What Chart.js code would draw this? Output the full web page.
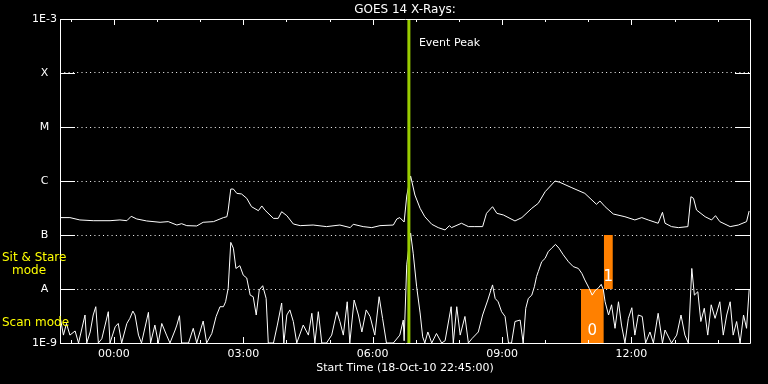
<!DOCTYPE html>
<html>
<head>
<meta charset="utf-8">
<script src="https://cdn.jsdelivr.net/npm/chart.js@4.4.0/dist/chart.umd.min.js"></script>
<style>
  html, body { margin: 0; padding: 0; background: #000; }
</style>
</head>
<body>
<canvas id="goes" width="768" height="384"></canvas>
<script>
// Time axis: hours from 00:00 on 19-Oct-10 (start is 22:45 the day before)
var timeMin = -1.25;
var timeMax = 14.75;
var hourTicks = [0, 3, 6, 9, 12];
var hourLabels = ["00:00", "03:00", "06:00", "09:00", "12:00"];

// Flux levels (W/m^2) and their labels
var levelValues = [1e-9, 1e-8, 1e-7, 1e-6, 1e-5, 1e-4, 1e-3];
var levelLabels = ["1E-9", "A", "B", "C", "M", "X", "1E-3"];

// Long channel (upper curve)
var longTime = [
    -1.25, -1.02, -0.79, -0.48, -0.09, 0.14, 0.30, 0.40, 0.53, 0.76,
    1.07, 1.26, 1.46, 1.57, 1.69, 1.92, 2.07, 2.31, 2.54, 2.62,
    2.65, 2.71, 2.77, 2.85, 2.96, 3.08, 3.19, 3.35, 3.43, 3.50,
    3.70, 3.81, 3.89, 4.01, 4.16, 4.32, 4.62, 4.93, 5.24, 5.48,
    5.55, 5.78, 5.98, 6.17, 6.48, 6.56, 6.63, 6.73, 6.79, 6.88,
    6.98, 7.10, 7.21, 7.37, 7.52, 7.68, 7.78, 7.83, 8.06, 8.22,
    8.37, 8.55, 8.64, 8.78, 8.88, 9.03, 9.30, 9.46, 9.69, 9.84,
    10.00, 10.23, 10.34, 10.62, 10.92, 11.19, 11.27, 11.39, 11.58, 11.85,
    12.08, 12.24, 12.39, 12.62, 12.72, 12.78, 12.93, 13.09, 13.31, 13.38,
    13.44, 13.51, 13.71, 13.86, 13.95, 14.05, 14.29, 14.48, 14.67, 14.73
];
var longFlux = [
    2.1e-7, 2.1e-7, 1.9e-7, 1.84e-7, 1.84e-7, 1.9e-7, 1.84e-7, 2.22e-7, 1.98e-7, 1.82e-7,
    1.72e-7, 1.77e-7, 1.53e-7, 1.62e-7, 1.49e-7, 1.47e-7, 1.72e-7, 1.77e-7, 2.1e-7, 2.18e-7,
    2.9e-7, 7.1e-7, 7.1e-7, 5.9e-7, 5.75e-7, 4.78e-7, 3.35e-7, 2.82e-7, 3.45e-7, 2.9e-7,
    2.03e-7, 2.03e-7, 2.7e-7, 2.28e-7, 1.6e-7, 1.49e-7, 1.53e-7, 1.43e-7, 1.53e-7, 1.37e-7,
    1.58e-7, 1.43e-7, 1.37e-7, 1.49e-7, 1.53e-7, 1.98e-7, 2.1e-7, 1.74e-7, 5.27e-7, 1.24e-6,
    5.5e-7, 3.12e-7, 2.18e-7, 1.58e-7, 1.37e-7, 1.24e-7, 1.49e-7, 1.37e-7, 1.65e-7, 1.43e-7,
    1.43e-7, 1.43e-7, 2.52e-7, 3.34e-7, 2.52e-7, 2.35e-7, 1.82e-7, 2.1e-7, 3.12e-7, 3.86e-7,
    6.34e-7, 1.0e-6, 9.45e-7, 7.5e-7, 5.9e-7, 3.7e-7, 4.26e-7, 3.34e-7, 2.45e-7, 2.18e-7,
    1.9e-7, 2.1e-7, 1.9e-7, 1.65e-7, 2.63e-7, 1.65e-7, 1.43e-7, 1.37e-7, 1.43e-7, 5.12e-7,
    4.78e-7, 2.9e-7, 2.18e-7, 1.9e-7, 2.28e-7, 1.77e-7, 1.43e-7, 1.53e-7, 1.77e-7, 2.78e-7
];

// Short channel (lower curve)
var shortTime = [
    -1.25, -1.17, -1.10, -1.02, -0.90, -0.82, -0.67, -0.63, -0.55, -0.48,
    -0.42, -0.36, -0.28, -0.13, -0.09, 0.03, 0.10, 0.18, 0.30, 0.37,
    0.44, 0.49, 0.57, 0.64, 0.80, 0.85, 0.95, 1.03, 1.11, 1.22,
    1.30, 1.42, 1.46, 1.52, 1.57, 1.73, 1.84, 1.92, 2.07, 2.15,
    2.27, 2.37, 2.46, 2.54, 2.59, 2.65, 2.71, 2.77, 2.83, 2.92,
    3.00, 3.08, 3.16, 3.23, 3.30, 3.37, 3.45, 3.53, 3.58, 3.70,
    3.79, 3.89, 3.94, 4.01, 4.08, 4.16, 4.24, 4.39, 4.51, 4.59,
    4.66, 4.74, 4.82, 4.93, 5.05, 5.17, 5.24, 5.32, 5.41, 5.47,
    5.57, 5.67, 5.75, 5.85, 5.94, 6.05, 6.15, 6.23, 6.32, 6.48,
    6.63, 6.71, 6.73, 6.79, 6.88, 6.94, 7.02, 7.10, 7.16, 7.21,
    7.28, 7.37, 7.48, 7.60, 7.68, 7.82, 7.87, 7.95, 8.03, 8.14,
    8.22, 8.30, 8.45, 8.55, 8.67, 8.78, 8.84, 8.91, 8.99, 9.07,
    9.15, 9.22, 9.30, 9.42, 9.49, 9.55, 9.61, 9.69, 9.75, 9.80,
    9.84, 9.92, 10.00, 10.07, 10.15, 10.24, 10.32, 10.42, 10.54, 10.65,
    10.77, 10.85, 10.92, 11.02, 11.09, 11.17, 11.23, 11.30, 11.35, 11.39,
    11.47, 11.54, 11.62, 11.70, 11.77, 11.85, 11.93, 12.01, 12.08, 12.16,
    12.25, 12.33, 12.43, 12.51, 12.62, 12.72, 12.78, 12.93, 13.05, 13.15,
    13.24, 13.32, 13.40, 13.46, 13.54, 13.61, 13.69, 13.77, 13.85, 13.94,
    14.05, 14.13, 14.21, 14.29, 14.36, 14.44, 14.52, 14.60, 14.67, 14.73
];
var shortFlux = [
    3.1e-9, 1.4e-9, 2.3e-9, 1.4e-9, 1.67e-9, 1e-9, 3.3e-9, 1e-9, 1.6e-9, 3.3e-9,
    4.7e-9, 1e-9, 1.2e-9, 3.8e-9, 1e-9, 2.0e-9, 2.3e-9, 1e-9, 2.3e-9, 2.86e-9,
    3.9e-9, 3.3e-9, 1.4e-9, 1e-9, 3.7e-9, 1e-9, 2.15e-9, 1e-9, 2.3e-9, 1.4e-9,
    1e-9, 1.74e-9, 2.15e-9, 3.2e-9, 1e-9, 1e-9, 1.87e-9, 1e-9, 2.55e-9, 1e-9,
    1.5e-9, 3.1e-9, 4.7e-9, 4.7e-9, 5.8e-9, 1.03e-8, 7.3e-8, 5.7e-8, 2.4e-8, 2.7e-8,
    1.8e-8, 1.6e-8, 7.7e-9, 7.2e-9, 3.3e-9, 9.6e-9, 1.15e-8, 6.7e-9, 1e-9, 1e-9,
    2.15e-9, 5.5e-9, 1e-9, 3.3e-9, 4.1e-9, 2.5e-9, 1e-9, 2.15e-9, 1.4e-9, 3.55e-9,
    1e-9, 3.8e-9, 1e-9, 1e-9, 1.4e-9, 3.8e-9, 2.5e-9, 1.4e-9, 5.8e-9, 1e-9,
    6.25e-9, 3.3e-9, 1.6e-9, 4.1e-9, 3.1e-9, 1.4e-9, 7.2e-9, 2.86e-9, 1e-9, 1e-9,
    1.4e-9, 2.66e-9, 1.1e-9, 2.8e-8, 1.09e-7, 4.6e-8, 1.1e-8, 3.6e-9, 1.3e-9, 1e-9,
    1.6e-9, 1e-9, 1.5e-9, 1e-9, 1.1e-9, 4.7e-9, 1e-9, 4.7e-9, 1.4e-9, 3.1e-9,
    1e-9, 1.2e-9, 1.6e-9, 3.3e-9, 6.25e-9, 1.19e-8, 6.7e-9, 5.8e-9, 3.8e-9, 3.1e-9,
    1e-9, 1e-9, 2.5e-9, 2.66e-9, 1e-9, 4.4e-9, 6.7e-9, 7.7e-9, 1.1e-8, 1.7e-8,
    2.1e-8, 3.2e-8, 3.7e-8, 4.9e-8, 5.7e-8, 6.7e-8, 5.7e-8, 4.3e-8, 3.2e-8, 2.6e-8,
    2.4e-8, 1.95e-8, 1.47e-8, 1.03e-8, 7.7e-9, 9.6e-9, 1.03e-8, 1.22e-8, 9.6e-9, 5.8e-9,
    3.3e-9, 5.1e-9, 1.87e-9, 5.8e-9, 2.15e-9, 1e-9, 2.86e-9, 4.5e-9, 1.4e-9, 3.3e-9,
    3.1e-9, 1e-9, 1.6e-9, 1e-9, 3.55e-9, 1e-9, 1.74e-9, 1e-9, 1.4e-9, 3.3e-9,
    1.4e-9, 1e-9, 2.4e-8, 7.7e-9, 8.9e-9, 2.5e-9, 4.4e-9, 1.4e-9, 5.1e-9, 2.86e-9,
    5.8e-9, 1.4e-9, 3.3e-9, 5.8e-9, 1.4e-9, 2.5e-9, 1e-9, 3.3e-9, 1.87e-9, 9.6e-9
];

// Event peak time and observing mode blocks (0 = scan, 1 = sit & stare)
var eventPeak = 6.84;
var modeStart = [10.83, 11.36];
var modeEnd = [11.36, 11.57];
var modeLow = [1e-9, 1e-8];
var modeHigh = [1e-8, 1e-7];
var modeLabels = ["0", "1"];

var FONT = "'DejaVu Sans', sans-serif";

function toPoints(t, f) {
    return t.map(function (v, i) { return { x: v, y: f[i] }; });
}

var datasets = [
    {
        label: "Event Peak",
        data: [{ x: eventPeak, y: 1e-3 }, { x: eventPeak, y: 1e-9 }],
        borderColor: "#99cc00",
        borderWidth: 3,
        pointRadius: 0,
        order: 0,
    },
    {
        label: "Long",
        data: toPoints(longTime, longFlux),
        borderColor: "#ffffff",
        borderWidth: 1,
        pointRadius: 0,
        order: 1,
    },
    {
        label: "Short",
        data: toPoints(shortTime, shortFlux),
        borderColor: "#ffffff",
        borderWidth: 1,
        pointRadius: 0,
        order: 1,
    },
];

modeStart.forEach(function (s, i) {
    datasets.push({
        label: "Mode " + modeLabels[i],
        data: [{ x: s, y: modeHigh[i] }, { x: modeEnd[i], y: modeHigh[i] }],
        borderWidth: 0,
        pointRadius: 0,
        backgroundColor: "#ff8000",
        fill: { value: modeLow[i] },
        order: 2,
    });
});

// Frame, inward ticks and free text
var goesDecor = {
    id: "goesDecor",
    afterDatasetsDraw: function (chart) {
        var ctx = chart.ctx;
        var a = chart.chartArea;
        var x = chart.scales.x;
        var y = chart.scales.y;
        ctx.save();
        ctx.strokeStyle = "#ffffff";
        ctx.lineWidth = 1;
        ctx.beginPath();
        ctx.rect(a.left + 0.5, a.top + 0.5, a.right - a.left, a.bottom - a.top);
        // hour ticks, top and bottom
        for (var h = Math.ceil(timeMin); h <= timeMax; h++) {
            var px = Math.round(x.getPixelForValue(h)) + 0.5;
            var len = (h % 3 === 0) ? 6 : 3;
            ctx.moveTo(px, a.top);
            ctx.lineTo(px, a.top + len);
            ctx.moveTo(px, a.bottom);
            ctx.lineTo(px, a.bottom - len);
        }
        // level ticks, left and right
        levelValues.slice(1, -1).forEach(function (v) {
            var py = Math.round(y.getPixelForValue(v)) + 0.5;
            ctx.moveTo(a.left, py);
            ctx.lineTo(a.left + 15, py);
            ctx.moveTo(a.right - 15, py);
            ctx.lineTo(a.right, py);
        });
        ctx.stroke();

        ctx.textBaseline = "middle";
        ctx.fillStyle = "#ffffff";
        ctx.font = "11px " + FONT;
        ctx.textAlign = "left";
        ctx.fillText("Event Peak", x.getPixelForValue(eventPeak) + 10, 43);

        ctx.font = "15px " + FONT;
        ctx.textAlign = "center";
        modeLabels.forEach(function (lbl, i) {
            var cx = (x.getPixelForValue(modeStart[i]) + x.getPixelForValue(modeEnd[i])) / 2;
            ctx.fillText(lbl, cx, y.getPixelForValue(modeLow[i]) - 12);
        });

        ctx.fillStyle = "#ffff00";
        ctx.font = "12px " + FONT;
        ctx.textAlign = "left";
        ctx.fillText("Sit & Stare", 2, 258);
        ctx.fillText("mode", 12, 271);
        ctx.fillText("Scan mode", 2, 323);
        ctx.restore();
    },
};

var ctx = document.getElementById("goes").getContext("2d");

var goesChart = new Chart(ctx, {
    type: "line",
    data: { datasets: datasets },
    options: {
        responsive: false,
        devicePixelRatio: 1,
        animation: false,
        layout: { padding: { top: 0, right: 18, bottom: 0, left: 0 } },
        plugins: {
            legend: { display: false },
            tooltip: { enabled: false },
        },
        elements: { line: { tension: 0 } },
        scales: {
            x: {
                type: "linear",
                position: "bottom",
                min: timeMin,
                max: timeMax,
                grid: { display: false, drawTicks: false },
                border: { display: false },
                afterBuildTicks: function (s) {
                    s.ticks = hourTicks.map(function (v) { return { value: v }; });
                },
                afterFit: function (s) { s.height = 41; },
                ticks: {
                    color: "#ffffff",
                    font: { family: FONT, size: 11 },
                    padding: 5,
                    maxRotation: 0,
                    autoSkip: false,
                    callback: function (v) { return hourLabels[hourTicks.indexOf(v)]; },
                },
                title: {
                    display: true,
                    text: "Start Time (18-Oct-10 22:45:00)",
                    color: "#ffffff",
                    font: { family: FONT, size: 11 },
                    padding: { top: 0, bottom: 9 },
                },
            },
            xTop: {
                type: "linear",
                position: "top",
                min: timeMin,
                max: timeMax,
                grid: { display: false, drawTicks: false },
                border: { display: false },
                ticks: { display: false },
                afterFit: function (s) { s.height = 19; },
                title: {
                    display: true,
                    text: "GOES 14 X-Rays:",
                    color: "#ffffff",
                    font: { family: FONT, size: 12 },
                    padding: { top: 3, bottom: 0 },
                },
            },
            y: {
                type: "logarithmic",
                position: "left",
                min: 1e-9,
                max: 1e-3,
                afterBuildTicks: function (s) {
                    s.ticks = levelValues.map(function (v) { return { value: v }; });
                },
                afterFit: function (s) { s.width = 60; },
                grid: { color: "#ffffff", lineWidth: 1, drawTicks: false },
                border: { display: false, dash: [1, 3.3] },
                ticks: {
                    color: "#ffffff",
                    font: { family: FONT, size: 11 },
                    padding: 3,
                    crossAlign: "center",
                    autoSkip: false,
                    callback: function (v) { return levelLabels[levelValues.indexOf(v)]; },
                },
            },
        },
    },
    plugins: [goesDecor],
});
</script>
</body>
</html>
